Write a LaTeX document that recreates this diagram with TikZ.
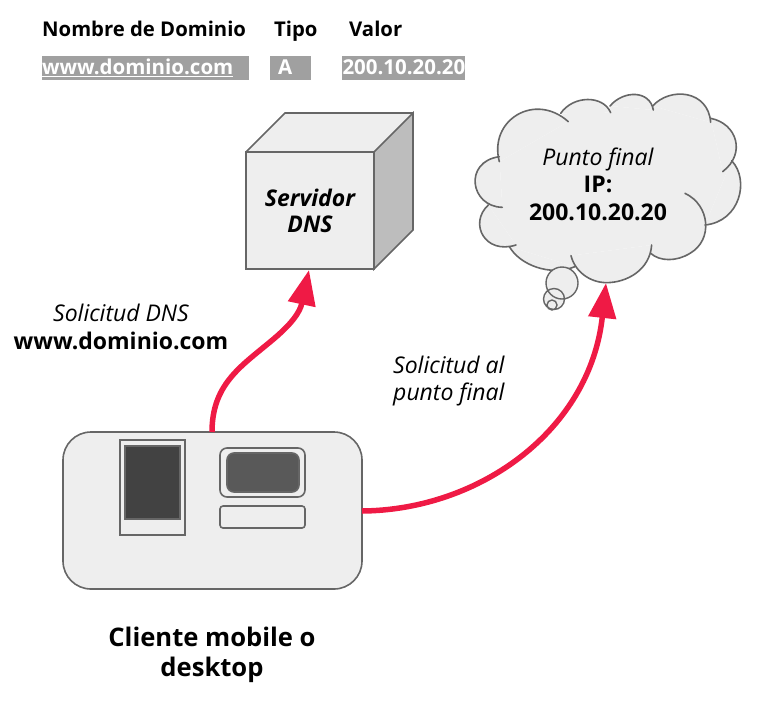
\documentclass[tikz,border=0pt]{standalone}
\usepackage{fontspec}
\setmainfont{Open Sans}
\usetikzlibrary{arrows.meta,positioning}
\definecolor{boxfill}{HTML}{EEEEEE}
\definecolor{edge}{HTML}{666666}
\definecolor{sidefill}{HTML}{BDBDBD}
\definecolor{tagfill}{HTML}{A0A0A0}
\definecolor{arrowred}{HTML}{EF1A45}
\newcommand{\lobefillcmd}[1]{\fill[lobefill] #1 -- cycle;}
\newcommand{\lobedrawcmd}[1]{\draw[lobe] #1;}
\newcommand{\alllobes}[1]{%
  #1{(118,215) .. controls (85,90) and (225,5) .. (325,95)}
  #1{(302,70) .. controls (340,15) and (430,15) .. (452,68)}
  #1{(450,48) .. controls (490,0) and (570,0) .. (580,60)}
  #1{(578,48) .. controls (630,-10) and (745,0) .. (752,97)}
  #1{(752,85) .. controls (830,100) and (860,190) .. (788,245)}
  #1{(815,212) .. controls (870,270) and (840,395) .. (735,405)}
  #1{(675,310) .. controls (750,345) and (760,450) .. (690,490) .. controls (650,515) and (600,515) .. (572,490)}
  #1{(575,465) .. controls (570,540) and (500,578) .. (440,578) .. controls (390,578) and (345,545) .. (333,497)}
  #1{(345,530) .. controls (270,560) and (180,525) .. (148,470)}
  #1{(168,465) .. controls (75,495) and (25,400) .. (85,345)}
  #1{(127,352) .. controls (30,350) and (10,215) .. (118,200)}
}
\tikzset{
  x=1pt,y=-1pt,
  shape3d/.style={draw=edge,line width=1.6pt,line join=miter},
  boxnode/.style={rectangle,inner sep=0pt,outer sep=0pt,anchor=north west,draw=edge,line width=1.6pt,fill=boxfill},
  tag/.style={rectangle,inner sep=0pt,outer sep=0pt,anchor=north west,fill=tagfill,text=white,font=\fontsize{20.5}{24}\selectfont\bfseries,text height=18.5pt,text depth=5.5pt,align=left},
  head/.style={anchor=base west,inner sep=0pt,font=\fontsize{20.3}{24}\selectfont\bfseries},
  note/.style={align=center,inner sep=0pt,font=\fontsize{23}{27.5}\selectfont},
  redarrow/.style={draw=arrowred,line width=5.5pt,-{Triangle[length=35pt,width=27pt,fill=arrowred]}},
  lobe/.style={draw=edge,line width=1.6pt,line cap=round},
  lobefill/.style={fill=boxfill,draw=none}
}
\begin{document}
\begin{tikzpicture}
\useasboundingbox (0,0) rectangle (757,705);
% table
\node[head] (h1) at (42,36) {Nombre de Dominio};
\node[head] (h2) at (274,36) {Tipo};
\node[head] (h3) at (349,36) {Valor};
\node[tag,minimum width=207pt,minimum height=24pt,text width=207pt] (v1) at (42,56) {\underline{www.dominio.com}};
\node[tag,minimum width=41pt,minimum height=24pt,text width=41pt] (v2) at (270,56) {\hspace*{8pt}A};
\node[tag,minimum width=123pt,minimum height=24pt,text width=123pt] (v3) at (342,56) {\hspace*{0.5pt}200.10.20.20};
% server
\fill[boxfill] (246,152) -- (285,113) -- (413,113) -- (374,152) -- cycle;
\draw[shape3d,fill=sidefill] (374,152) -- (413,113) -- (413,230) -- (374,269) -- cycle;
\draw[shape3d] (246,152) -- (285,113) -- (413,113);
\node[boxnode,minimum width=128pt,minimum height=117pt,align=center,font=\fontsize{23}{27.5}\selectfont\bfseries\itshape] (server) at (246,152) {\raisebox{-1.5pt}{Servidor}\\DNS};
% cloud
\begin{scope}[shift={(460,90)},x=0.3333pt,y=-0.3333pt]
  \fill[lobefill] (118,215) -- (325,95) -- (302,70) -- (452,68) -- (450,48) -- (580,60) -- (578,48) -- (752,97) -- (752,85) -- (788,245) -- (815,212) -- (735,405) -- (572,490) -- (575,465) -- (333,497) -- (345,530) -- (148,470) -- (168,465) -- (85,345) -- (127,352) -- (118,200) -- cycle;
  \alllobes{\lobefillcmd}
  \alllobes{\lobedrawcmd}
\end{scope}
\fill[boxfill] (562,283) circle (16) (554,299) circle (10.5) (552,305) circle (5);
\draw[edge,line width=1.4pt] (562,283) circle (16) (554,299) circle (10.5) (552,305) circle (5);
\coordinate (cloudtip) at (606,283);
\node[note] (cloudtext) at (598,184) {\itshape Punto final\\\bfseries IP:\\\bfseries 200.10.20.20};
% client
\node[boxnode,minimum width=299pt,minimum height=157pt,rounded corners=28pt] (client) at (63,432) {};
\node[boxnode,minimum width=65pt,minimum height=95pt] (phone) at (120,440) {};
\node[boxnode,minimum width=55pt,minimum height=73pt,fill=black!74] (phonescreen) at (125,446) {};
\node[boxnode,minimum width=85pt,minimum height=49pt,rounded corners=7pt] (monitor) at (220,448) {};
\node[boxnode,minimum width=72pt,minimum height=39pt,rounded corners=7pt,fill=black!65,draw=black!60] (screen) at (227,453) {};
\node[boxnode,minimum width=85pt,minimum height=22pt,rounded corners=3pt] (keyboard) at (220,506) {};
% connectors
\coordinate (a1) at (212,432);
\coordinate (a2) at (362,511);
\coordinate (servertip) at (309,270);
\draw[redarrow] (a1) .. controls (212,385) and (240,367) .. (270,342) .. controls (292,324) and (300,312) .. (servertip);
\draw[redarrow] (a2) .. controls (480,510) and (590,430) .. (cloudtip);
% labels
\node[note] (l1) at (121,327) {\itshape Solicitud DNS\\\bfseries www.dominio.com};
\node[note,align=left,anchor=west] (l2) at (393,381) {\itshape Solicitud al\\\itshape punto final};
\node[note,font=\fontsize{25.6}{30}\selectfont\bfseries] (l3) at (212,655) {Cliente mobile o\\desktop};
\end{tikzpicture}
\end{document}
